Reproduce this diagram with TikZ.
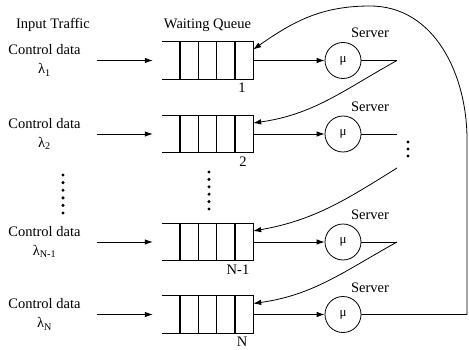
\documentclass[tikz,border=0pt]{standalone}
\usepackage{fontspec}
\setmainfont{Liberation Serif}
\usetikzlibrary{arrows.meta,calc}

\begin{document}
\begin{tikzpicture}[x=1pt,y=1pt,
font=\fontsize{14.5}{19}\selectfont,
% common options for the queues:
queue/.style = {rectangle, minimum width=91pt, minimum height=37pt, inner sep=0},
qline/.style = {line width=1.3pt},
% common options for the servers:
srv/.style = {circle, draw, line width=0.8pt, minimum size=36pt, inner sep=0,
            font=\fontsize{13}{15}\selectfont},
% common options for the sources:
src/.style = {align=center, inner sep=3pt},
arr/.style = {-{Latex[length=8pt,width=5.5pt]}, line width=0.8pt},
dot/.style = {circle, fill, inner sep=0, minimum size=3.4pt}]
\useasboundingbox (0,0) rectangle (469,349);
\node (hin) at (53,324) {Input Traffic};
\node (hwq) at (207.5,324) {Waiting Queue};
% sources
\node[src] (c1) at (44.5,288.5) {Control data\\λ\textsubscript{1}};
\node[src] (c2) at (44.5,215) {Control data\\λ\textsubscript{2}};
\node[src] (c3) at (44.5,107) {Control data\\λ\textsubscript{N-1}};
\node[src] (c4) at (44.5,34.5) {Control data\\λ\textsubscript{N}};
% queues
\node[queue] (q1) at (207.5,288.5) {};
\node[queue] (q2) at (207.5,215) {};
\node[queue] (q3) at (207.5,107) {};
\node[queue] (q4) at (207.5,34.5) {};
\node (n1) at (242,261) {1};
\node (n2) at (243,187) {2};
\node (n3) at (238,79) {N-1};
\node (n4) at (242,7) {N};
% servers
\node[srv] (s1) at (343,288.5) {μ};
\node[srv] (s2) at (343,215) {μ};
\node[srv] (s3) at (343,107) {μ};
\node[srv] (s4) at (343,34.5) {μ};
\node (t1) at (370,316) {Server};
\node (t2) at (370,242) {Server};
\node (t3) at (370,134) {Server};
\node (t4) at (370,61) {Server};
\coordinate (o1) at (397,288.5);
\coordinate (o2) at (397,215);
\coordinate (o2b) at (397,181);
\coordinate (o3) at (397,107);
\coordinate (loopR) at (467,34.5);
\coordinate (loopT) at (370,343);
% queue cells
\foreach \q in {q1,q2,q3,q4} {
  \draw[qline] (\q.north west) -- (\q.north east) -- (\q.south east) -- (\q.south west);
  \foreach \i in {1,...,4}
    \draw[qline] ($(\q.north west)!\i/5!(\q.north east)$) -- ($(\q.south west)!\i/5!(\q.south east)$);
}
% input and service
\foreach \i in {1,...,4} {
  \draw[arr, shorten <=13pt, shorten >=9pt] (c\i.east) -- (q\i.west);
  \draw[arr] (q\i.east) -- (s\i.west);
}
\draw[line width=0.8pt] (s1.east) -- (o1);
\draw[line width=0.8pt] (s2.east) -- (o2);
\draw[line width=0.8pt] (s3.east) -- (o3);
% feedback to the next queue
\draw[arr] (o1) to[out=209,in=8] ([yshift=11pt]q2.east);
\draw[arr] (o2b) to[out=212,in=10] ([yshift=11pt]q3.east);
\draw[arr] (o3) to[out=209,in=8] ([yshift=11pt]q4.east);
\draw[arr] (s4.east) -- (loopR) -- ++(0,175) to[out=90,in=0] (loopT)
  to[out=180,in=35] ([yshift=11pt]q1.east);
% dots
\foreach \k in {0,...,5} {
  \node[dot] at (63,174-7.6*\k) {};
  \node[dot] at (209,177-7.4*\k) {};
}
\foreach \k in {0,...,2}
  \node[dot] at (408,207-7*\k) {};
\end{tikzpicture}
\end{document}
